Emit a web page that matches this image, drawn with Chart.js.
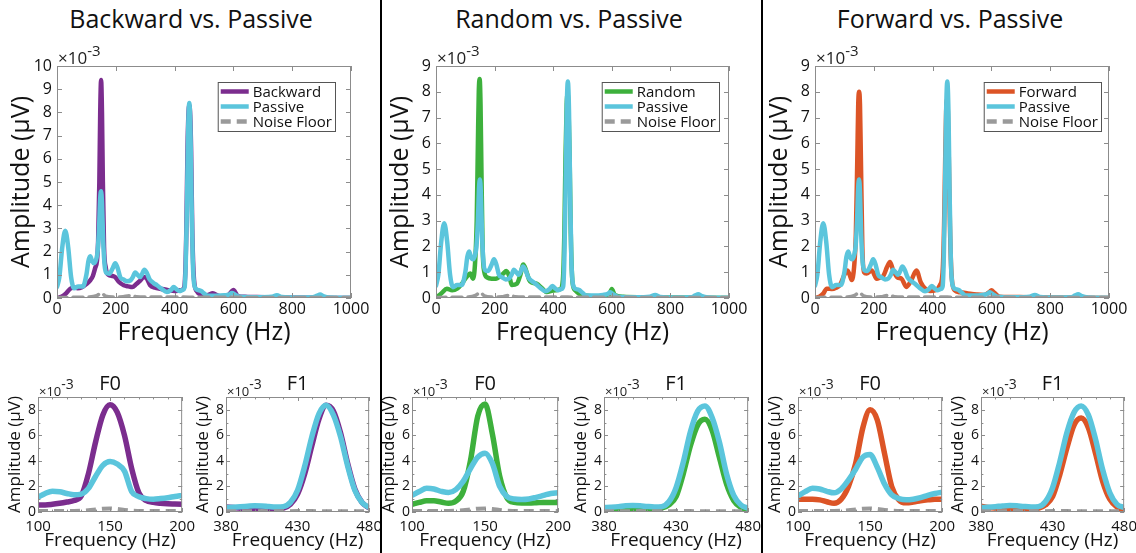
<!DOCTYPE html>
<html>
<head>
<meta charset="utf-8">
<script src="https://cdn.jsdelivr.net/npm/chart.js@4.4.1/dist/chart.umd.min.js"></script>
<style>
  body { margin: 0; background: #fff; }
  #page { position: relative; width: 1136px; height: 553px; overflow: hidden; font-family: "Open Sans", sans-serif; }
  .panel { position: absolute; }
  .colTitle { position: absolute; top: 1px; font-size: 25px; color: #111; text-align: center; }
  .sep { position: absolute; top: 0; width: 2px; height: 553px; background: #000; z-index: 5; }
</style>
</head>
<body>
<div id="page">
  <div class="colTitle" style="left:0;width:382px">Backward vs. Passive</div>
  <div class="colTitle" style="left:379px;width:380px">Random vs. Passive</div>
  <div class="colTitle" style="left:762px;width:376px">Forward vs. Passive</div>
  <div class="sep" style="left:380px"></div>
  <div class="sep" style="left:761px"></div>

  <div class="panel" style="left:0;top:36px;width:379px;height:314px"><canvas id="topBackward"></canvas></div>
  <div class="panel" style="left:379px;top:36px;width:378px;height:314px"><canvas id="topRandom"></canvas></div>
  <div class="panel" style="left:758px;top:36px;width:379px;height:314px"><canvas id="topForward"></canvas></div>

  <div class="panel" style="left:0;top:360px;width:201px;height:193px"><canvas id="f0Backward"></canvas></div>
  <div class="panel" style="left:188px;top:360px;width:200px;height:193px"><canvas id="f1Backward"></canvas></div>
  <div class="panel" style="left:374px;top:360px;width:203px;height:193px"><canvas id="f0Random"></canvas></div>
  <div class="panel" style="left:566px;top:360px;width:201px;height:193px"><canvas id="f1Random"></canvas></div>
  <div class="panel" style="left:760px;top:360px;width:201px;height:193px"><canvas id="f0Forward"></canvas></div>
  <div class="panel" style="left:943px;top:360px;width:200px;height:193px"><canvas id="f1Forward"></canvas></div>
</div>

<script>
// amplitudes are in units of 10^-3 uV

// full spectrum, 0-1000 Hz
const freqPassive = [0, 8, 18, 28, 38, 48, 58, 72, 88, 100, 107, 113, 119, 126, 134, 138, 143, 147, 150, 153, 157, 162, 168, 178, 190, 198, 206, 215, 226, 238, 250, 258, 266, 274, 282, 290, 297, 305, 315, 328, 340, 355, 374, 388, 397, 406, 416, 428, 434, 438, 442, 446, 450, 454, 458, 462, 468, 478, 490, 500, 512, 540, 570, 585, 595, 605, 620, 680, 730, 748, 765, 820, 870, 885, 895, 905, 930, 1000];
const ampPassive = [0.47, 0.9, 2.2, 2.9, 2.2, 0.9, 0.42, 0.5, 0.5, 1.0, 1.6, 1.8, 1.6, 1.5, 1.7, 2.0, 3.0, 4.3, 4.6, 4.1, 2.5, 1.4, 1.08, 1.05, 1.3, 1.5, 1.3, 0.9, 0.8, 0.72, 0.76, 0.9, 1.1, 1.0, 0.9, 1.05, 1.22, 1.1, 0.8, 0.65, 0.55, 0.4, 0.26, 0.35, 0.47, 0.38, 0.3, 0.35, 0.45, 1.5, 4.0, 7.2, 8.4, 7.2, 4.0, 1.5, 0.5, 0.35, 0.3, 0.2, 0.1, 0.1, 0.12, 0.15, 0.22, 0.15, 0.05, 0.03, 0.05, 0.12, 0.04, 0.02, 0.03, 0.1, 0.15, 0.08, 0.02, 0.01];

const freqBackward = [0, 15, 30, 45, 58, 70, 85, 100, 113, 122, 130, 136, 140, 144, 147, 150, 153, 156, 160, 166, 175, 188, 198, 210, 227, 243, 256, 270, 283, 295, 305, 317, 333, 351, 375, 400, 418, 430, 436, 440, 444, 447, 450, 453, 456, 460, 466, 475, 490, 510, 530, 548, 565, 585, 595, 600, 605, 615, 640, 680, 750, 850, 1000];
const ampBackward = [0, 0.05, 0.19, 0.4, 0.45, 0.42, 0.47, 0.6, 0.76, 0.95, 1.3, 1.6, 2.5, 5.0, 8.0, 9.4, 8.0, 5.0, 2.2, 1.3, 1.0, 0.95, 0.9, 0.7, 0.55, 0.5, 0.47, 0.6, 0.75, 0.9, 0.85, 0.55, 0.45, 0.4, 0.35, 0.3, 0.33, 0.4, 1.0, 3.0, 6.5, 7.9, 8.3, 7.9, 6.5, 3.0, 0.8, 0.3, 0.15, 0.12, 0.2, 0.1, 0.05, 0.15, 0.3, 0.35, 0.28, 0.08, 0.05, 0.04, 0.02, 0.01, 0];

const freqRandom = [0, 20, 37, 55, 72, 88, 100, 110, 117, 126, 133, 139, 143, 146, 149, 152, 155, 159, 165, 174, 190, 205, 220, 230, 240, 250, 259, 276, 288, 298, 308, 318, 327, 344, 360, 378, 395, 410, 425, 433, 438, 442, 446, 449, 452, 456, 460, 466, 475, 490, 510, 560, 590, 600, 610, 640, 700, 800, 1000];
const ampRandom = [0, 0.2, 0.36, 0.3, 0.36, 0.55, 0.75, 0.9, 0.95, 0.75, 1.3, 3.0, 6.0, 8.0, 8.5, 7.5, 5.0, 2.0, 1.0, 0.8, 0.75, 0.75, 0.85, 0.95, 1.05, 0.85, 0.5, 0.55, 0.9, 1.3, 1.05, 0.7, 0.6, 0.55, 0.4, 0.23, 0.28, 0.3, 0.35, 0.7, 2.5, 5.5, 7.5, 7.9, 7.5, 5.5, 2.5, 0.6, 0.3, 0.15, 0.1, 0.05, 0.1, 0.35, 0.12, 0.05, 0.03, 0.02, 0];

const freqForward = [0, 15, 28, 40, 57, 72, 85, 100, 110, 118, 125, 133, 139, 144, 147, 150, 153, 156, 161, 167, 175, 193, 210, 222, 232, 245, 255, 265, 280, 294, 311, 328, 345, 360, 375, 391, 410, 425, 434, 439, 443, 446, 449, 452, 455, 459, 465, 475, 493, 520, 549, 575, 595, 600, 610, 628, 660, 720, 800, 1000];
const ampForward = [0, 0.05, 0.17, 0.36, 0.35, 0.4, 0.5, 0.9, 1.07, 0.9, 0.7, 1.2, 2.5, 5.5, 7.5, 8.0, 7.5, 5.5, 2.0, 1.0, 0.95, 1.07, 0.75, 0.8, 0.85, 1.2, 1.4, 1.1, 0.8, 0.75, 0.43, 0.7, 1.07, 0.6, 0.36, 0.27, 0.3, 0.5, 1.0, 2.8, 5.5, 7.2, 7.7, 7.2, 5.5, 2.8, 0.8, 0.3, 0.22, 0.18, 0.14, 0.12, 0.25, 0.3, 0.2, 0.05, 0.04, 0.03, 0.02, 0];

const freqNoise = [0, 60, 110, 135, 145, 152, 165, 190, 225, 245, 255, 270, 300, 400, 500, 600, 700, 800, 900, 1000];
const ampNoise = [0.02, 0.03, 0.04, 0.1, 0.18, 0.2, 0.08, 0.04, 0.05, 0.1, 0.1, 0.05, 0.04, 0.04, 0.03, 0.03, 0.02, 0.02, 0.02, 0.02];

const topYMax = [10, 9, 9];

// zoomed views around F0 and F1
const f0Freq = [100, 105, 110, 115, 120, 125, 130, 135, 140, 145, 150, 155, 160, 165, 170, 175, 180, 185, 190, 195, 200];
const f1Freq = [380, 385, 390, 395, 400, 405, 410, 415, 420, 425, 430, 435, 440, 445, 450, 455, 460, 465, 470, 475, 480];

const f0Backward = [0.55, 0.55, 0.6, 0.68, 0.78, 0.9, 1.25, 3.0, 5.5, 7.6, 8.4, 7.8, 6.0, 3.4, 1.5, 0.9, 0.75, 0.68, 0.64, 0.62, 0.6];
const f0PassiveB = [1.15, 1.45, 1.62, 1.58, 1.45, 1.35, 1.4, 1.85, 2.8, 3.65, 3.95, 3.75, 3.2, 1.6, 1.2, 1.05, 1.0, 1.05, 1.12, 1.22, 1.3];
const f0Random = [0.6, 0.75, 0.88, 0.88, 0.78, 0.68, 0.85, 1.6, 4.0, 7.5, 8.45, 6.1, 2.8, 1.1, 0.75, 0.7, 0.7, 0.72, 0.75, 0.75, 0.75];
const f0PassiveR = [1.3, 1.6, 1.85, 1.8, 1.62, 1.52, 1.75, 2.4, 3.4, 4.3, 4.6, 3.8, 2.0, 1.2, 1.02, 0.98, 1.02, 1.15, 1.3, 1.45, 1.5];
const f0Forward = [1.0, 1.0, 1.0, 0.95, 0.8, 0.68, 1.0, 2.0, 3.8, 6.6, 8.0, 7.2, 4.6, 2.0, 0.95, 0.72, 0.78, 0.88, 0.95, 1.0, 1.0];
const f0PassiveF = [1.25, 1.6, 1.85, 1.8, 1.62, 1.5, 1.8, 2.5, 3.35, 4.3, 4.5, 3.5, 2.2, 1.35, 1.05, 0.95, 1.0, 1.12, 1.3, 1.45, 1.55];
const f0Noise = [0.08, 0.08, 0.08, 0.07, 0.07, 0.08, 0.1, 0.14, 0.2, 0.26, 0.28, 0.24, 0.16, 0.1, 0.08, 0.07, 0.07, 0.07, 0.08, 0.08, 0.08];

const f1Backward = [0.4, 0.35, 0.3, 0.28, 0.25, 0.23, 0.22, 0.24, 0.3, 0.6, 1.4, 3.0, 5.2, 7.3, 8.35, 7.9, 6.2, 3.8, 1.8, 0.75, 0.3];
const f1PassiveB = [0.35, 0.38, 0.42, 0.45, 0.48, 0.47, 0.43, 0.4, 0.42, 0.75, 1.7, 3.6, 5.9, 7.7, 8.35, 7.6, 5.9, 3.6, 1.7, 0.75, 0.35];
const f1Random = [0.25, 0.25, 0.28, 0.3, 0.3, 0.28, 0.25, 0.25, 0.3, 0.55, 1.2, 3.0, 5.2, 6.8, 7.25, 6.4, 4.3, 2.2, 0.9, 0.35, 0.2];
const f1PassiveR = [0.35, 0.38, 0.42, 0.48, 0.5, 0.48, 0.43, 0.4, 0.42, 0.8, 1.9, 3.9, 6.3, 7.9, 8.3, 7.4, 5.5, 3.0, 1.3, 0.55, 0.3];
const f1Forward = [0.45, 0.35, 0.3, 0.27, 0.25, 0.22, 0.2, 0.22, 0.3, 0.55, 1.2, 2.9, 5.0, 6.8, 7.35, 6.6, 4.6, 2.4, 1.0, 0.4, 0.2];
const f1PassiveF = [0.35, 0.38, 0.42, 0.47, 0.5, 0.48, 0.43, 0.4, 0.42, 0.8, 1.9, 3.9, 6.2, 7.8, 8.3, 7.6, 5.7, 3.3, 1.5, 0.6, 0.35];
const f1Noise = [0.06, 0.06, 0.05, 0.05, 0.06, 0.07, 0.06, 0.05, 0.05, 0.06, 0.07, 0.08, 0.07, 0.06, 0.05, 0.05, 0.06, 0.06, 0.05, 0.05, 0.05];

const PURPLE = '#7b2d8e';
const GREEN = '#3db03c';
const ORANGE = '#dc5426';
const CYAN = '#5bc5dc';
const GRAY = '#9a9a9a';
const FONT = '"Open Sans", sans-serif';

Chart.defaults.font.family = FONT;
Chart.defaults.color = '#111';

function pts(xs, ys) {
    return xs.map((x, i) => ({ x: x, y: ys[i] }));
}

// plain numbers on the ticks (no thousands separator)
const plainTick = v => String(v);

// matlab-ish box with inward ticks, the x10^-3 multiplier and an in-axes legend
const matlabAxes = {
    id: 'matlab',
    afterDraw(chart, args, o) {
        const ctx = chart.ctx;
        const a = chart.chartArea;
        const xs = chart.scales.x, ys = chart.scales.y;
        ctx.save();
        ctx.setLineDash([]);
        ctx.strokeStyle = '#8c8c8c';
        ctx.lineWidth = 1;
        ctx.strokeRect(a.left + 0.5, a.top + 0.5, a.width - 1, a.height - 1);

        const seg = (x1, y1, x2, y2) => { ctx.beginPath(); ctx.moveTo(x1, y1); ctx.lineTo(x2, y2); ctx.stroke(); };
        const xTicks = (step, len) => {
            for (let v = xs.min; v <= xs.max + 1e-6; v += step) {
                const p = Math.round(xs.getPixelForValue(v)) + 0.5;
                seg(p, a.bottom, p, a.bottom - len);
                seg(p, a.top, p, a.top + len);
            }
        };
        const yTicks = (step, len) => {
            for (let v = ys.min; v <= ys.max + 1e-6; v += step) {
                const p = Math.round(ys.getPixelForValue(v)) + 0.5;
                seg(a.left, p, a.left + len, p);
                seg(a.right, p, a.right - len, p);
            }
        };
        xTicks(o.xStep, o.tickLen);
        yTicks(o.yStep, o.tickLen);
        if (o.xMinor) xTicks(o.xMinor, o.tickLen * 0.6);
        if (o.yMinor) yTicks(o.yMinor, o.tickLen * 0.6);

        // x10^-3
        ctx.fillStyle = '#222';
        ctx.textAlign = 'left';
        ctx.textBaseline = 'alphabetic';
        ctx.font = o.expSize + 'px ' + FONT;
        ctx.fillText('\u00d710', a.left + 1, a.top - o.expGap);
        const w = ctx.measureText('\u00d710').width;
        ctx.font = o.supSize + 'px ' + FONT;
        ctx.fillText('-3', a.left + 1 + w, a.top - o.expGap - o.supRaise);

        if (o.legend) {
            const items = chart.data.datasets;
            ctx.font = o.legendSize + 'px ' + FONT;
            const textW = Math.max(...items.map(d => ctx.measureText(d.label).width));
            const lineLen = 28, gap = 4, padX = 3, rowH = 15;
            const boxW = padX + lineLen + gap + textW + padX;
            const boxH = rowH * items.length + 4;
            const bx = a.right - o.legendRight - boxW;
            const by = a.top + o.legendTop;
            ctx.fillStyle = '#fff';
            ctx.fillRect(bx, by, boxW, boxH);
            ctx.strokeStyle = '#555';
            ctx.lineWidth = 1;
            ctx.strokeRect(bx + 0.5, by + 0.5, boxW, boxH);
            items.forEach((d, i) => {
                const cy = by + 2 + rowH * (i + 0.5);
                ctx.strokeStyle = d.borderColor;
                ctx.lineWidth = 4.5;
                ctx.setLineDash(d.borderDash || []);
                seg(bx + padX, cy, bx + padX + lineLen, cy);
                ctx.setLineDash([]);
                ctx.fillStyle = '#111';
                ctx.textBaseline = 'middle';
                ctx.fillText(d.label, bx + padX + lineLen + gap, cy + 1);
            });
        }
        ctx.restore();
    }
};

function makeTop(id, label, color, freq, amp, yMax, legendRight) {
    new Chart(document.getElementById(id), {
        type: 'line',
        data: {
            datasets: [
                { label: label, data: pts(freq, amp), borderColor: color, borderWidth: 4.5, order: 3 },
                { label: 'Passive', data: pts(freqPassive, ampPassive), borderColor: CYAN, borderWidth: 4.5, order: 2 },
                { label: 'Noise Floor', data: pts(freqNoise, ampNoise), borderColor: GRAY, borderWidth: 3.5, borderDash: [10, 6], order: 1 }
            ]
        },
        options: {
            responsive: true,
            maintainAspectRatio: false,
            animation: false,
            events: [],
            layout: { padding: { top: 30, right: 28, left: 0, bottom: 0 } },
            elements: {
                point: { radius: 0 },
                line: { cubicInterpolationMode: 'monotone', borderJoinStyle: 'round', borderCapStyle: 'round' }
            },
            plugins: {
                legend: { display: false },
                tooltip: { enabled: false },
                matlab: { xStep: 200, yStep: 1, tickLen: 5, expSize: 17, supSize: 15, expGap: 2, supRaise: 8,
                          legend: true, legendSize: 15, legendRight: legendRight, legendTop: 16 }
            },
            scales: {
                x: {
                    type: 'linear', min: 0, max: 1000,
                    ticks: { stepSize: 200, padding: 2, maxRotation: 0, font: { size: 16 }, callback: plainTick },
                    grid: { display: false, drawTicks: false },
                    border: { display: false },
                    title: { display: true, text: 'Frequency (Hz)', font: { size: 25 }, padding: { top: 0, bottom: 2 } },
                    afterFit: s => { s.height = 52; }
                },
                y: {
                    min: 0, max: yMax,
                    ticks: { stepSize: 1, padding: 5, font: { size: 16 }, callback: plainTick },
                    grid: { display: false, drawTicks: false },
                    border: { display: false },
                    title: { display: true, text: 'Amplitude (\u03bcV)', font: { size: 25 }, padding: { top: 7, bottom: 0 } },
                    afterFit: s => { s.width = 57; }
                }
            }
        },
        plugins: [matlabAxes]
    });
}

function makeZoom(id, title, label, color, freq, ampCond, ampPass, ampNoiseArr, xMin, xMax) {
    new Chart(document.getElementById(id), {
        type: 'line',
        data: {
            datasets: [
                { label: label, data: pts(freq, ampCond), borderColor: color, borderWidth: 5.5, order: 3 },
                { label: 'Passive', data: pts(freq, ampPass), borderColor: CYAN, borderWidth: 5.5, order: 2 },
                { label: 'Noise Floor', data: pts(freq, ampNoiseArr), borderColor: GRAY, borderWidth: 4, borderDash: [10, 6], order: 1 }
            ]
        },
        options: {
            responsive: true,
            maintainAspectRatio: false,
            animation: false,
            events: [],
            layout: { padding: { top: 2, right: 16, left: 0, bottom: 0 } },
            elements: {
                point: { radius: 0 },
                line: { cubicInterpolationMode: 'monotone', borderJoinStyle: 'round' }
            },
            plugins: {
                legend: { display: false },
                tooltip: { enabled: false },
                title: { display: true, text: title, fullSize: false, font: { size: 20, weight: 'normal' }, color: '#111', padding: { top: 10, bottom: 1 } },
                matlab: { xStep: 50, yStep: 2, xMinor: 10, yMinor: 1, tickLen: 4, expSize: 13, supSize: 14, expGap: 1, supRaise: 7, legend: false }
            },
            scales: {
                x: {
                    type: 'linear', min: xMin, max: xMax,
                    ticks: { stepSize: 50, padding: 6, maxRotation: 0, font: { size: 15 }, callback: plainTick },
                    grid: { display: false, drawTicks: false },
                    border: { display: false },
                    title: { display: true, text: 'Frequency (Hz)', font: { size: 19 }, padding: { top: 0, bottom: 1 } },
                    afterFit: s => { s.height = 41; }
                },
                y: {
                    min: 0, max: 9,
                    ticks: { stepSize: 2, includeBounds: false, padding: 2, font: { size: 14 }, callback: plainTick },
                    grid: { display: false, drawTicks: false },
                    border: { display: false },
                    title: { display: true, text: 'Amplitude (\u03bcV)', font: { size: 17 }, padding: { top: 5, bottom: 0 } },
                    afterFit: s => { s.width = 38; }
                }
            }
        },
        plugins: [matlabAxes]
    });
}

makeTop('topBackward', 'Backward', PURPLE, freqBackward, ampBackward, topYMax[0], 16);
makeTop('topRandom', 'Random', GREEN, freqRandom, ampRandom, topYMax[1], 10);
makeTop('topForward', 'Forward', ORANGE, freqForward, ampForward, topYMax[2], 8);

makeZoom('f0Backward', 'F0', 'Backward', PURPLE, f0Freq, f0Backward, f0PassiveB, f0Noise, 100, 200);
makeZoom('f1Backward', 'F1', 'Backward', PURPLE, f1Freq, f1Backward, f1PassiveB, f1Noise, 380, 480);
makeZoom('f0Random', 'F0', 'Random', GREEN, f0Freq, f0Random, f0PassiveR, f0Noise, 100, 200);
makeZoom('f1Random', 'F1', 'Random', GREEN, f1Freq, f1Random, f1PassiveR, f1Noise, 380, 480);
makeZoom('f0Forward', 'F0', 'Forward', ORANGE, f0Freq, f0Forward, f0PassiveF, f0Noise, 100, 200);
makeZoom('f1Forward', 'F1', 'Forward', ORANGE, f1Freq, f1Forward, f1PassiveF, f1Noise, 380, 480);
</script>
</body>
</html>
